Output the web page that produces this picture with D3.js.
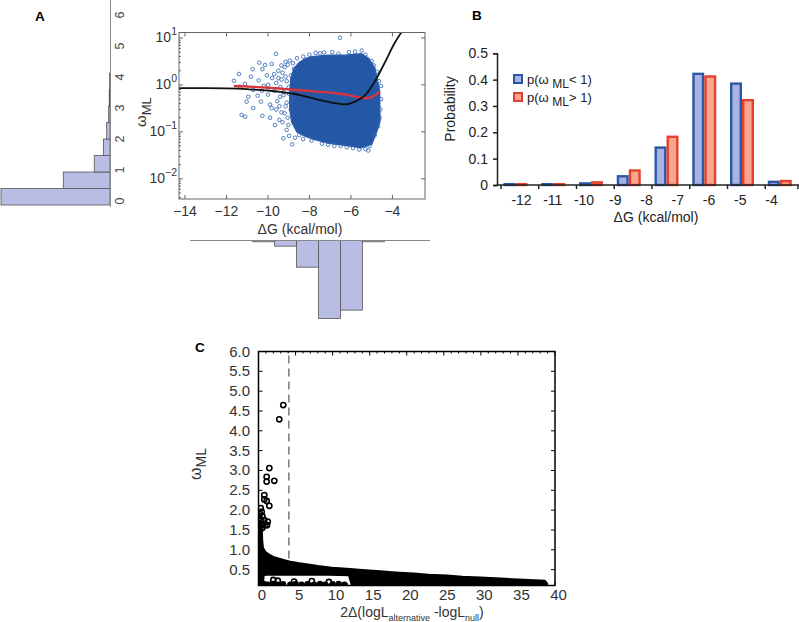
<!DOCTYPE html>
<html><head><meta charset="utf-8">
<script src="https://cdn.jsdelivr.net/npm/d3@7"></script>
<style>body{margin:0;background:#fff}svg{display:block}text{font-family:"Liberation Sans",Arial,sans-serif}</style>
</head><body>
<svg id="chart" width="799" height="622"></svg>
<script>
// ---------------- DATA ----------------
// Panel A scatter (ΔG vs ω_ML, log y)
const aFitX = [-14.3,-13,-12,-11,-10,-9.3,-8.7,-7.7,-6.8,-6.3,-5.8,-5.3,-4.85,-4.35,-3.9,-3.55];
const aFitY = [0.85,0.85,0.84,0.81,0.76,0.70,0.64,0.50,0.41,0.385,0.44,0.61,1.18,3.1,7.7,13.5];
const aRedX = [-11.65,-11.2,-10.7,-10,-9.6,-9.2,-8.8,-8.5,-8.1,-7.7,-7.2,-6.8,-6.5,-6.2,-5.8,-5.5,-5.3,-5.0,-4.8,-4.6];
const aRedY = [0.95,0.93,0.91,0.87,0.85,0.82,0.79,0.77,0.75,0.72,0.70,0.67,0.64,0.62,0.56,0.54,0.52,0.55,0.62,0.72];
const aCloudX = [-8.95,-8.9,-8.75,-8.5,-8.2,-7.9,-7.1,-6.3,-5.5,-5.15,-4.85,-4.62,-4.6,-4.76,-5.0,-5.5,-6.3,-7.1,-7.7,-8.2,-8.6,-8.85,-8.95];
const aCloudY = [0.6,1.4,2.2,3.0,3.6,4.0,4.3,4.3,4.6,3.7,2.3,0.75,0.17,0.10,0.055,0.046,0.052,0.058,0.068,0.08,0.10,0.16,0.3];
const aPtsX = [-11.64,-11.4,-11.27,-11.1,-11.11,-10.82,-10.74,-10.42,-10.27,-10.14,-9.82,-9.61,-11.03,-10.71,-10.5,-10.34,-10.27,-9.9,-9.82,-9.66,-9.26,-8.83,-9.02,-9.42,-10.71,-10.95,-11.35,-9.99,-9.5,-8.98,-6.53,-5.48,-7.49,-5.16,
  -9.7,-9.55,-9.4,-9.3,-9.2,-9.5,-9.8,-10.0,-10.2,-10.45,-9.35,-9.45,-9.1,-9.15,-8.95,-8.8,-8.6,-8.3,-8.0,-7.7,-7.3,-6.9,-6.6,-6.1,-5.8,-5.3,-5.0,-4.9,-4.75,-4.65,-4.55,-4.55,-4.58,-4.62,-4.7,-4.85,-5.1,-5.3,-5.6,-5.9,-6.2,-6.5,-6.8,-7.1,-7.4,-7.9,-8.3,-8.5,-8.7,-9.05,-9.15,-9.25,-9.1,-9.0,-8.9,-8.85,-8.9,-8.75,-9.05,
  -9.6,-9.35,-9.25,-9.1,-9.3,-9.45,-9.2,-9.0,-9.15,-9.35,-9.6,-9.7,-10.05,-10.3,-9.9];
const aPtsY = [1.22,1.71,0.23,0.21,1.05,1.50,2.16,2.98,2.16,2.66,2.80,4.6,0.44,0.32,0.59,0.44,0.22,0.20,0.32,0.14,0.073,0.054,0.14,0.56,0.78,0.56,0.92,1.0,1.39,0.082,10.1,5.4,4.7,0.04,
  0.75,0.45,0.9,1.8,2.4,2.0,1.4,0.62,0.95,1.25,0.26,0.18,0.11,3.1,3.3,2.9,3.7,4.0,4.4,4.8,4.9,5.0,4.6,5.0,5.1,4.4,3.2,2.6,1.9,1.2,0.95,0.5,0.3,0.2,0.13,0.085,0.05,0.043,0.042,0.045,0.047,0.05,0.05,0.053,0.056,0.065,0.07,0.085,0.075,0.2,0.35,0.6,1.2,0.9,1.6,0.5,0.3,2.2,2.7,
  1.1,1.3,0.7,0.42,0.16,0.35,0.25,0.65,1.5,2.6,0.3,1.7,1.6,0.75,0.38];
const aXTicks = [-14,-12,-10,-8,-6,-4];
const aYExp = [-2,-1,0,1];
// Left marginal histogram of ω_ML
const wBinStart = [0,0.5,1,1.5,2,2.5,3,3.5];
const wFreq = [0.56,0.24,0.081,0.034,0.017,0.007,0.004,0.002];
const wTicks = [0,1,2,3,4,5,6];
// Bottom marginal histogram of ΔG
const gBinStart = [-10,-9,-8,-7,-6,-5];
const gFreq = [0.007,0.031,0.146,0.427,0.381,0.007];
// Panel B
const bBins = ["b1","b2","b3","b4","b5","b6","b7","b8"];
const bLow  = [0.003,0.003,0.006,0.033,0.142,0.422,0.385,0.012];
const bHigh = [0.003,0.003,0.010,0.055,0.183,0.412,0.322,0.015];
const bTickLabels = ["-12","-11","-10","-9","-8","-7","-6","-5","-4"];
const bYTicks = [0,0.1,0.2,0.3,0.4,0.5];
// Panel C
const cUpperX = [0,0.25,0.45,0.5,0.6,0.9,1.5,2.0,2.7,3.5,4.3,5.5,6.7,8.0,9.9,11.9,14,16.4,18.5,20.9,23,25.4,27.5,29.9,32,34.3,36.5,38.6,38.9];
const cUpperY = [1.75,1.7,1.5,1.25,1.05,0.95,0.87,0.82,0.78,0.74,0.70,0.66,0.63,0.59,0.55,0.52,0.49,0.46,0.43,0.40,0.37,0.35,0.32,0.30,0.28,0.26,0.24,0.22,0.16];
const cLowerX = [38.9,38.6,12.6,12.2,9.5,5,1,0.7,0.6,0];
const cLowerY = [0.12,0.1,0.1,0.36,0.37,0.37,0.37,0.36,0.1,0.1];
const cPtsX = [3.34,2.8,1.46,1.1,1.1,2.13,0.78,0.78,1.1,1.46,0.3,0.43,0.52,0.78,1.24,0.2,0.1,0.35,0.6,0.9,1.15,0.15,0.5,
  2.0,2.6,4.8,7.2,9.5];
const cPtsY = [4.65,4.29,3.06,2.84,2.72,2.74,2.38,2.27,2.23,2.11,2.05,1.96,1.85,1.75,1.71,1.9,1.8,1.75,1.62,1.62,1.62,1.6,1.55,
  0.24,0.22,0.2,0.21,0.19];
// dense blobs lying on the lower edge of panel C
const cBlobX = [0.8,1.3,1.9,2.6,3.3,4.3,5.0,5.8,6.6,7.5,8.3,9.0,10.0,10.8,11.6];
const cBlobY = [0.13,0.12,0.14,0.12,0.13,0.12,0.14,0.12,0.13,0.12,0.14,0.12,0.13,0.14,0.12];
const cThreshold = 4.1;
const cXTicks = [0,5,10,15,20,25,30,35,40];
const cYTicks = [0.5,1.0,1.5,2.0,2.5,3.0,3.5,4.0,4.5,5.0,5.5,6.0];

// ---------------- DRAW ----------------
const svg = d3.select("#chart");
const MINUS = "\u2212";
const fmtMinus = v => (v < 0 ? MINUS + Math.abs(v) : String(v));

// ===== Panel A: scatter =====
const ax = d3.scaleLinear().domain([-14.29,-2.43]).range([179,425]);
const ay = d3.scaleLog().domain([Math.pow(10,-2.43), Math.pow(10,1.116)]).range([199,32.5]);
svg.append("clipPath").attr("id","clipA").append("rect")
  .attr("x",179).attr("y",32.5).attr("width",246).attr("height",166.5);
const gA = svg.append("g");
const gAc = gA.append("g").attr("clip-path","url(#clipA)");
const cloud = d3.range(aCloudX.length).map(i => [ax(aCloudX[i]), ay(aCloudY[i])]);
gAc.append("path").attr("d", d3.line().curve(d3.curveLinearClosed)(cloud))
  .attr("fill","#2457a6").attr("stroke","#2b5fae").attr("stroke-width",1.5);
gAc.selectAll("circle.ap").data(d3.range(aPtsX.length)).join("circle")
  .attr("cx", i => ax(aPtsX[i])).attr("cy", i => ay(aPtsY[i])).attr("r",1.8)
  .attr("fill","none").attr("stroke","#2b5fae").attr("stroke-width",0.8);
gAc.append("path").attr("d", d3.line().x(i=>ax(aRedX[i])).y(i=>ay(aRedY[i])).curve(d3.curveMonotoneX)(d3.range(aRedX.length)))
  .attr("fill","none").attr("stroke","#d8343e").attr("stroke-width",2.4);
gAc.append("path").attr("d", d3.line().x(i=>ax(aFitX[i])).y(i=>ay(aFitY[i])).curve(d3.curveMonotoneX)(d3.range(aFitX.length)))
  .attr("fill","none").attr("stroke","#111").attr("stroke-width",1.8);
// box & ticks
gA.append("rect").attr("x",179).attr("y",32.5).attr("width",246).attr("height",166.5)
  .attr("fill","none").attr("stroke","#666").attr("stroke-width",1);
aXTicks.forEach(t => {
  gA.append("line").attr("x1",ax(t)).attr("x2",ax(t)).attr("y1",199).attr("y2",195).attr("stroke","#666");
  gA.append("line").attr("x1",ax(t)).attr("x2",ax(t)).attr("y1",32.5).attr("y2",36.5).attr("stroke","#666");
  gA.append("text").attr("x",ax(t)).attr("y",216).attr("text-anchor","middle").attr("font-size",14).attr("fill","#333").text(fmtMinus(t));
});
for (let e=-3; e<=1; e++) for (let m=1; m<=9; m++) {
  const v = m*Math.pow(10,e);
  if (v < ay.domain()[0] || v > ay.domain()[1]) continue;
  const L = m===1 ? 4 : 2;
  gA.append("line").attr("x1",179).attr("x2",179+L).attr("y1",ay(v)).attr("y2",ay(v)).attr("stroke","#666");
  if (m===1) gA.append("line").attr("x1",425).attr("x2",421).attr("y1",ay(v)).attr("y2",ay(v)).attr("stroke","#666");
}
aYExp.forEach(e => {
  const yy = ay(Math.pow(10,e));
  const t = gA.append("text").attr("x",177).attr("y",yy+4).attr("text-anchor","end").attr("font-size",14).attr("fill","#333");
  t.append("tspan").text("10");
  t.append("tspan").attr("dy",-7).attr("font-size",10.5).text(fmtMinus(e));
});
gA.append("text").attr("x",300).attr("y",234).attr("text-anchor","middle").attr("font-size",14).attr("fill","#333").text("ΔG (kcal/mol)");
const aYl = gA.append("text").attr("transform","translate(146,127) rotate(-90)").attr("font-size",15).attr("fill","#333");
aYl.append("tspan").text("ω");
aYl.append("tspan").attr("dy",5).attr("font-size",13).text("ML");
gA.append("text").attr("x",35).attr("y",21).attr("font-size",13.5).attr("font-weight","bold").text("A");

// ===== Left histogram =====
const wy = d3.scaleLinear().domain([0,6]).range([205,7]);
const wLab = d3.scaleLinear().domain([0,6]).range([201,15]);
const wx = d3.scaleLinear().domain([0,0.56]).range([0,109]);
const gW = svg.append("g");
gW.selectAll("rect").data(d3.range(wBinStart.length)).join("rect")
  .attr("x", i => 110 - wx(wFreq[i])).attr("width", i => wx(wFreq[i]))
  .attr("y", i => wy(wBinStart[i]+0.5)).attr("height", i => wy(wBinStart[i]) - wy(wBinStart[i]+0.5))
  .attr("fill","#b9bce5").attr("stroke","#555").attr("stroke-width",0.8);
gW.append("line").attr("x1",110.5).attr("x2",110.5).attr("y1",0).attr("y2",207).attr("stroke","#888").attr("stroke-width",1);
wTicks.forEach(t => {
  gW.append("text").attr("transform",`translate(124,${wLab(t)}) rotate(-90)`).attr("text-anchor","middle")
    .attr("font-size",12.5).attr("fill","#444").text(t);
});

// ===== Bottom histogram =====
const gx = d3.scaleLinear().domain([-10,-4]).range([252.7,384.3]);
const gh = d3.scaleLinear().domain([0,0.427]).range([0,78]);
const gG = svg.append("g");
gG.selectAll("rect").data(d3.range(gBinStart.length)).join("rect")
  .attr("x", i => gx(gBinStart[i])).attr("width", i => gx(gBinStart[i]+1) - gx(gBinStart[i]))
  .attr("y", 240.5).attr("height", i => Math.max(1, gh(gFreq[i])))
  .attr("fill","#b9bce5").attr("stroke","#555").attr("stroke-width",0.8);
gG.append("line").attr("x1",190).attr("x2",430).attr("y1",240.5).attr("y2",240.5).attr("stroke","#888");

// ===== Panel B =====
const bx = d3.scaleBand().domain(bBins).range([497,799]).padding(0);
const bsub = d3.scaleBand().domain(["low","high"]).range([6.5,30.5]).padding(0);
const by = d3.scaleLinear().domain([0,0.5]).range([185,53.3]);
const bLab = d3.scalePoint().domain(bTickLabels).range([521.5,771.5]);
const gB = svg.append("g");
bBins.forEach((b,i) => {
  [["low",bLow[i],"#2b57a8","#a9b2e0"],["high",bHigh[i],"#e5402d","#f9a68e"]].forEach(([k,v,s,f]) => {
    gB.append("rect").attr("x", bx(b)+bsub(k)+1.2).attr("width", bsub.bandwidth()-2.4)
      .attr("y", by(v)).attr("height", Math.max(0, by(0)-by(v)))
      .attr("fill",f).attr("stroke",s).attr("stroke-width",2.4);
  });
});
gB.append("g").attr("transform","translate(497,0)")
  .call(d3.axisLeft(by).tickValues(bYTicks).tickSize(4).tickPadding(5).tickFormat(d => d===0 ? "0" : d3.format(".1f")(d)))
  .call(g => { g.select(".domain").attr("stroke","#222").attr("stroke-width",1.5);
    g.selectAll(".tick line").attr("stroke","#222").attr("stroke-width",1.5);
    g.selectAll("text").attr("font-size",14).attr("fill","#222").attr("font-family","Liberation Sans, Arial, sans-serif"); });
gB.append("line").attr("x1",497).attr("x2",799).attr("y1",185).attr("y2",185).attr("stroke","#222").attr("stroke-width",1.5);
bBins.concat(["end"]).forEach(b => {
  const xx = b==="end" ? 798 : bx(b)+4;
  gB.append("line").attr("x1",xx).attr("x2",xx).attr("y1",185).attr("y2",189).attr("stroke","#222").attr("stroke-width",1.5);
});
bTickLabels.forEach(t => {
  gB.append("text").attr("x",bLab(t)).attr("y",205).attr("text-anchor","middle").attr("font-size",14).attr("fill","#222").text(t);
});
gB.append("text").attr("x",656).attr("y",222).attr("text-anchor","middle").attr("font-size",14).attr("fill","#222").text("ΔG (kcal/mol)");
gB.append("text").attr("transform","translate(455,109) rotate(-90)").attr("text-anchor","middle").attr("font-size",14).attr("fill","#222").text("Probability");
gB.append("text").attr("x",472).attr("y",20).attr("font-size",13.5).attr("font-weight","bold").text("B");
[["<","#2b57a8","#a9b2e0",79],[">","#e5402d","#f9a68e",97]].forEach(([sym,s,f,yy]) => {
  gB.append("rect").attr("x",514).attr("y",yy-4).attr("width",8).attr("height",8).attr("fill",f).attr("stroke",s).attr("stroke-width",2);
  const t = gB.append("text").attr("x",527).attr("y",yy+5).attr("font-size",13).attr("fill","#222");
  t.append("tspan").text("p(ω ");
  t.append("tspan").attr("dy",4).attr("font-size",12).text("ML");
  t.append("tspan").attr("dy",-4).text(sym + " 1)");
});

// ===== Panel C =====
const cx = d3.scaleLinear().domain([0,40]).range([258.5,555]);
const cy = d3.scaleLinear().domain([0.1,6.0]).range([585.5,351.5]);
const gC = svg.append("g");
svg.append("clipPath").attr("id","clipC").append("rect").attr("x",258.5).attr("y",351.5).attr("width",296.5).attr("height",234);
const gCc = gC.append("g").attr("clip-path","url(#clipC)");
gCc.append("line").attr("x1",cx(cThreshold)).attr("x2",cx(cThreshold)).attr("y1",cy(5.9)).attr("y2",cy(0.5))
  .attr("stroke","#555").attr("stroke-width",1.2).attr("stroke-dasharray","8,5");
const mass = d3.range(cUpperX.length).map(i => [cx(cUpperX[i]), cy(cUpperY[i])])
  .concat(d3.range(cLowerX.length).map(i => [cx(cLowerX[i]), cy(cLowerY[i])]));
gCc.append("path").attr("d", d3.line()(mass) + "Z").attr("fill","#000").attr("stroke","#000").attr("stroke-width",2);
gCc.selectAll("circle.blob").data(d3.range(cBlobX.length)).join("circle").attr("class","blob")
  .attr("cx", i => cx(cBlobX[i])).attr("cy", i => cy(cBlobY[i])).attr("r",3.2).attr("fill","#000");
gCc.selectAll("circle.pt").data(d3.range(cPtsX.length)).join("circle").attr("class","pt")
  .attr("cx", i => cx(cPtsX[i])).attr("cy", i => cy(cPtsY[i])).attr("r",2.6)
  .attr("fill","none").attr("stroke","#000").attr("stroke-width",1.6);
gC.append("rect").attr("x",258.5).attr("y",351.5).attr("width",296.5).attr("height",234)
  .attr("fill","none").attr("stroke","#000").attr("stroke-width",1.5);
for (let v=0; v<=40; v++) {
  const L = v%5===0 ? 4 : 2;
  gC.append("line").attr("x1",cx(v)).attr("x2",cx(v)).attr("y1",351.5).attr("y2",351.5+L).attr("stroke","#000");
  gC.append("line").attr("x1",cx(v)).attr("x2",cx(v)).attr("y1",585.5).attr("y2",585.5-L).attr("stroke","#000");
}
cYTicks.forEach(v => {
  gC.append("line").attr("x1",258.5).attr("x2",262.5).attr("y1",cy(v)).attr("y2",cy(v)).attr("stroke","#000");
  gC.append("line").attr("x1",555).attr("x2",551).attr("y1",cy(v)).attr("y2",cy(v)).attr("stroke","#000");
  gC.append("text").attr("x",250).attr("y",cy(v)+5).attr("text-anchor","end").attr("font-size",15).attr("fill","#333").text(d3.format(".1f")(v));
});
cXTicks.forEach(v => {
  gC.append("text").attr("x",cx(v)+3.5).attr("y",600).attr("text-anchor","middle").attr("font-size",15).attr("fill","#333").text(v);
});
const cXl = gC.append("text").attr("x",412).attr("y",617).attr("text-anchor","middle").attr("font-size",14).attr("fill","#333");
cXl.append("tspan").text("2Δ(logL");
cXl.append("tspan").attr("dy",4).attr("font-size",9).text("alternative");
cXl.append("tspan").attr("dy",-4).text(" -logL");
cXl.append("tspan").attr("dy",4).attr("font-size",9).text("null");
cXl.append("tspan").attr("dy",-4).text(")");
const cYl = gC.append("text").attr("transform","translate(201,480) rotate(-90)").attr("font-size",16).attr("fill","#333");
cYl.append("tspan").text("ω");
cYl.append("tspan").attr("dy",5).attr("font-size",14).text("ML");
gC.append("text").attr("x",195).attr("y",352).attr("font-size",13.5).attr("font-weight","bold").text("C");
</script></body></html>
